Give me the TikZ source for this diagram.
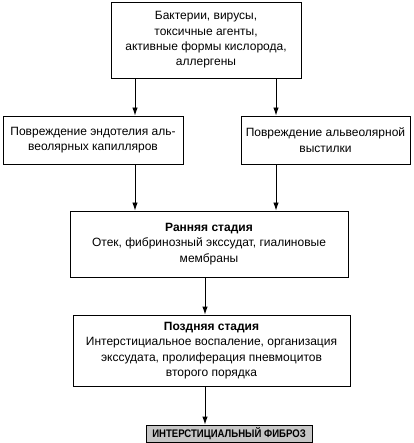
\documentclass[tikz,border=0pt]{standalone}
\usepackage{fontspec}
\setmainfont{Liberation Sans}
\usetikzlibrary{arrows.meta}
\begin{document}
\begin{tikzpicture}[x=1pt,y=-1pt,
  box/.style={draw, line width=0.9pt, align=center, inner sep=2pt, font=\fontsize{12}{15.3}\selectfont},
  arr/.style={line width=0.9pt, -{Latex[length=8pt,width=5.5pt]}}]
\useasboundingbox (0,0) rectangle (413,443);
\node[box, minimum width=190pt, minimum height=76pt] (top) at (206,40)
  {Бактерии, вирусы,\\токсичные агенты,\\активные формы кислорода,\\аллергены};
\node[box, minimum width=180pt, minimum height=48pt] (left) at (93,140)
  {Повреждение эндотелия аль-\\веолярных капилляров};
\node[box, minimum width=169pt, minimum height=48pt] (right) at (325.5,140)
  {Повреждение альвеолярной\\выстилки};
\node[box, minimum width=278pt, minimum height=66pt] (early) at (209,244)
  {\textbf{Ранняя стадия}\\Отек, фибринозный экссудат, гиалиновые\\мембраны};
\node[box, minimum width=277pt, minimum height=71pt] (late) at (211.5,350.5)
  {\textbf{Поздняя стадия}\\Интерстициальное воспаление, организация\\экссудата, пролиферация пневмоцитов\\второго порядка};
\node[box, fill=gray!45, minimum width=166pt, minimum height=17pt, inner sep=1pt, font=\fontsize{11}{12}\selectfont\bfseries] (final) at (229,433.5)
  {\scalebox{0.87}[1]{ИНТЕРСТИЦИАЛЬНЫЙ ФИБРОЗ}};
\coordinate (xa) at (135,0);
\coordinate (xb) at (276,0);
\coordinate (xc) at (205,0);
\draw[arr] (top.south -| xa) -- (left.north -| xa);
\draw[arr] (top.south -| xb) -- (right.north -| xb);
\draw[arr] (left.south -| xa) -- (early.north -| xa);
\draw[arr] (right.south -| xb) -- (early.north -| xb);
\draw[arr] (early.south -| xc) -- (late.north -| xc);
\draw[arr] (late.south -| xc) -- (final.north -| xc);
\end{tikzpicture}
\end{document}
